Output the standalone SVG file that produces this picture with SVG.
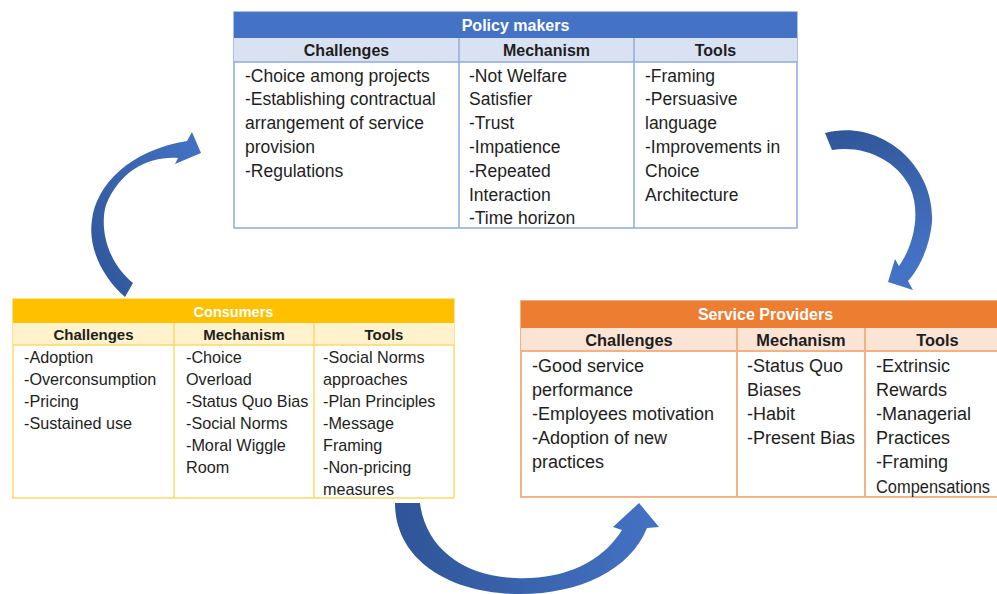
<svg xmlns="http://www.w3.org/2000/svg" width="997" height="594" viewBox="0 0 997 594">
  <defs>
    <linearGradient id="gradUp" x1="0" y1="1" x2="1" y2="0">
      <stop offset="0" stop-color="#2F5597"/>
      <stop offset="1" stop-color="#4472C4"/>
    </linearGradient>
    <linearGradient id="gradDown" x1="0" y1="0" x2="0.3" y2="1">
      <stop offset="0" stop-color="#2F5597"/>
      <stop offset="1" stop-color="#4472C4"/>
    </linearGradient>
    <linearGradient id="gradRight" x1="0" y1="0" x2="1" y2="0">
      <stop offset="0" stop-color="#2F5597"/>
      <stop offset="1" stop-color="#4472C4"/>
    </linearGradient>
    <style>
      text { font-family: "Liberation Sans", Arial, sans-serif; fill: #1e1e1e; }
      .title { font-weight: bold; fill: #ffffff; text-anchor: middle; }
      .head { font-weight: bold; text-anchor: middle; }
      .pm .title { font-size: 16px; }
      .pm .head { font-size: 16px; }
      .pm .body { font-size: 17.5px; }
      .co .title { font-size: 14.5px; }
      .co .head { font-size: 15px; }
      .co .body { font-size: 16.2px; }
      .sp .title { font-size: 16px; }
      .sp .head { font-size: 16.4px; }
      .sp .body { font-size: 18px; }
      .pm .frame { fill: #ffffff; stroke: #8FAADC; stroke-width: 1.5; }
      .pm .bar { fill: #4472C4; }
      .pm .hdr { fill: #D9E2F3; }
      .pm .rule { stroke: #8FAADC; stroke-width: 1.5; }
      .co .frame { fill: #ffffff; stroke: #FFD966; stroke-width: 1.5; }
      .co .bar { fill: #FFC000; }
      .co .hdr { fill: #FFF2CC; }
      .co .rule { stroke: #FFD966; stroke-width: 1.5; }
      .sp .frame { fill: #ffffff; stroke: #F4B183; stroke-width: 2; }
      .sp .bar { fill: #ED7D31; }
      .sp .hdr { fill: #FBE4D5; }
      .sp .rule { stroke: #F4B183; stroke-width: 2; }
    </style>
  </defs>

  <rect x="0" y="0" width="997" height="594" fill="#ffffff"/>

  <!-- curved block arrows linking the three actors -->
  <g id="connectors">
    <path id="arrow-consumers-policy" fill="url(#gradUp)"
          d="M125,297 C100,275 88,245 92,220 C96,185 130,150 187,141 L192,132 L201,153 L175,164 L178,158 C150,156 120,170 106,205 C100,225 105,260 133,283 Z"/>
    <path id="arrow-policy-providers" fill="url(#gradDown)"
          d="M825,133 C880,118 935,165 932,222 C930,245 920,268 908,281 L913,290 L888,282 L895,259 L899,266 C912,248 922,215 910,187 C895,158 862,145 832,150 Z"/>
    <path id="arrow-consumers-providers" fill="url(#gradRight)"
          d="M395,503 C395,560 450,594 520,594 C580,594 630,570 647,528 L659,527 L639,503 L613,527 L622,530 C600,565 560,580 515,578 C460,576 425,545 420,503 Z"/>
  </g>

  <!-- Policy makers -->
  <g id="policy-makers" class="pm">
    <rect class="frame" x="234" y="12" width="563" height="216"/>
    <rect class="bar" x="234" y="12" width="563" height="26"/>
    <rect class="hdr" x="234" y="38" width="563" height="24"/>
    <line class="rule" x1="234" y1="62" x2="797" y2="62"/>
    <line class="rule" x1="459" y1="38" x2="459" y2="228"/>
    <line class="rule" x1="634" y1="38" x2="634" y2="228"/>
    <text class="title" x="515.5" y="30.5">Policy makers</text>
    <text class="head" x="346.5" y="56">Challenges</text>
    <text class="head" x="546.5" y="56">Mechanism</text>
    <text class="head" x="715.5" y="56">Tools</text>
    <text class="body">
      <tspan x="245" y="81.5">-Choice among projects</tspan>
      <tspan x="245" y="105.3">-Establishing contractual</tspan>
      <tspan x="245" y="129.1">arrangement of service</tspan>
      <tspan x="245" y="152.9">provision</tspan>
      <tspan x="245" y="176.7">-Regulations</tspan>
    </text>
    <text class="body">
      <tspan x="469" y="81.5">-Not Welfare</tspan>
      <tspan x="469" y="105.3">Satisfier</tspan>
      <tspan x="469" y="129.1">-Trust</tspan>
      <tspan x="469" y="152.9">-Impatience</tspan>
      <tspan x="469" y="176.7">-Repeated</tspan>
      <tspan x="469" y="200.5">Interaction</tspan>
      <tspan x="469" y="224.3">-Time horizon</tspan>
    </text>
    <text class="body">
      <tspan x="645" y="81.5">-Framing</tspan>
      <tspan x="645" y="105.3">-Persuasive</tspan>
      <tspan x="645" y="129.1">language</tspan>
      <tspan x="645" y="152.9">-Improvements in</tspan>
      <tspan x="645" y="176.7">Choice</tspan>
      <tspan x="645" y="200.5">Architecture</tspan>
    </text>
  </g>

  <!-- Consumers -->
  <g id="consumers" class="co">
    <rect class="frame" x="13" y="299" width="441" height="199"/>
    <rect class="bar" x="13" y="299" width="441" height="24"/>
    <rect class="hdr" x="13" y="323" width="441" height="22"/>
    <line class="rule" x1="13" y1="345" x2="454" y2="345"/>
    <line class="rule" x1="174" y1="323" x2="174" y2="498"/>
    <line class="rule" x1="314" y1="323" x2="314" y2="498"/>
    <text class="title" x="233.5" y="316.5">Consumers</text>
    <text class="head" x="93.5" y="339.5">Challenges</text>
    <text class="head" x="244" y="339.5">Mechanism</text>
    <text class="head" x="384" y="339.5">Tools</text>
    <text class="body">
      <tspan x="24" y="363">-Adoption</tspan>
      <tspan x="24" y="385">-Overconsumption</tspan>
      <tspan x="24" y="407">-Pricing</tspan>
      <tspan x="24" y="429">-Sustained use</tspan>
    </text>
    <text class="body">
      <tspan x="186" y="363">-Choice</tspan>
      <tspan x="186" y="385">Overload</tspan>
      <tspan x="186" y="407">-Status Quo Bias</tspan>
      <tspan x="186" y="429">-Social Norms</tspan>
      <tspan x="186" y="451">-Moral Wiggle</tspan>
      <tspan x="186" y="473">Room</tspan>
    </text>
    <text class="body">
      <tspan x="323" y="363">-Social Norms</tspan>
      <tspan x="323" y="385">approaches</tspan>
      <tspan x="323" y="407">-Plan Principles</tspan>
      <tspan x="323" y="429">-Message</tspan>
      <tspan x="323" y="451">Framing</tspan>
      <tspan x="323" y="473">-Non-pricing</tspan>
      <tspan x="323" y="495">measures</tspan>
    </text>
  </g>

  <!-- Service Providers (frame runs past the right edge) -->
  <g id="service-providers" class="sp">
    <rect class="frame" x="521" y="301" width="489" height="196"/>
    <rect class="bar" x="521" y="301" width="489" height="27"/>
    <rect class="hdr" x="521" y="328" width="489" height="23"/>
    <line class="rule" x1="521" y1="351" x2="1010" y2="351"/>
    <line class="rule" x1="737" y1="328" x2="737" y2="497"/>
    <line class="rule" x1="865" y1="328" x2="865" y2="497"/>
    <text class="title" x="765.5" y="320">Service Providers</text>
    <text class="head" x="629" y="346">Challenges</text>
    <text class="head" x="801" y="346">Mechanism</text>
    <text class="head" x="937.5" y="346">Tools</text>
    <text class="body">
      <tspan x="532" y="371.5">-Good service</tspan>
      <tspan x="532" y="395.7">performance</tspan>
      <tspan x="532" y="419.9">-Employees motivation</tspan>
      <tspan x="532" y="444.1">-Adoption of new</tspan>
      <tspan x="532" y="468.3">practices</tspan>
    </text>
    <text class="body">
      <tspan x="747" y="371.5">-Status Quo</tspan>
      <tspan x="747" y="395.7">Biases</tspan>
      <tspan x="747" y="419.9">-Habit</tspan>
      <tspan x="747" y="444.1">-Present Bias</tspan>
    </text>
    <text class="body">
      <tspan x="876" y="371.5">-Extrinsic</tspan>
      <tspan x="876" y="395.7">Rewards</tspan>
      <tspan x="876" y="419.9">-Managerial</tspan>
      <tspan x="876" y="444.1">Practices</tspan>
      <tspan x="876" y="468.3">-Framing</tspan>
    </text>
    <text class="body" x="876" y="492.5" textLength="114" lengthAdjust="spacingAndGlyphs">Compensations</text>
  </g>
</svg>
